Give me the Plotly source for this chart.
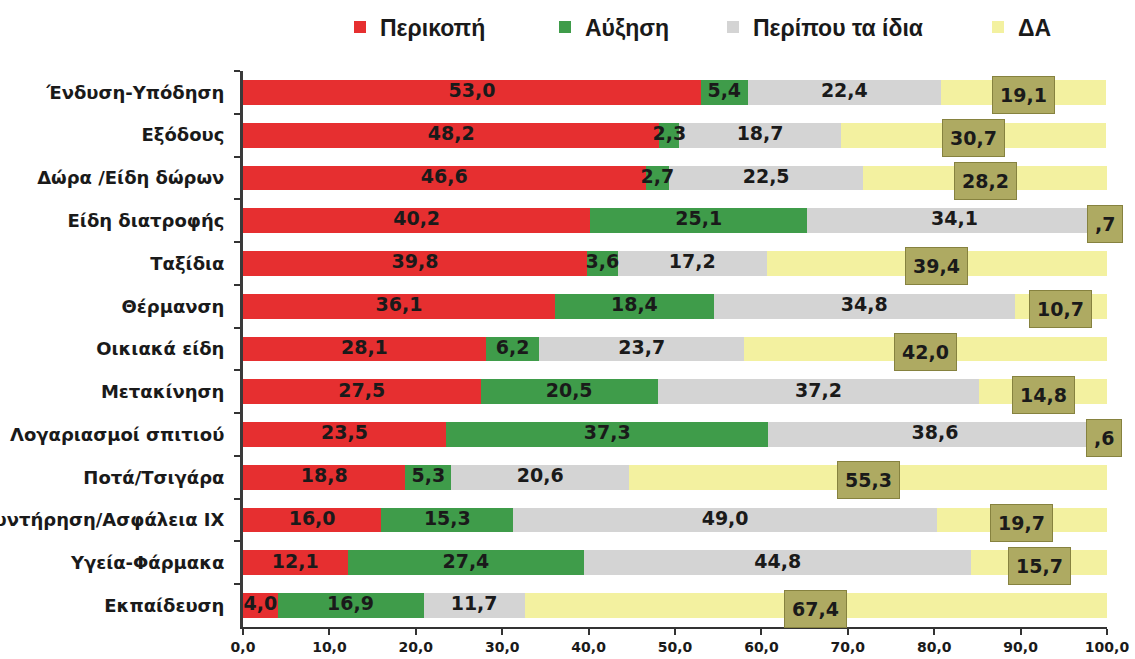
import plotly.graph_objects as go

categories = ["Ένδυση-Υπόδηση", "Εξόδους", "Δώρα /Είδη δώρων", "Είδη διατροφής", "Ταξίδια",
              "Θέρμανση", "Οικιακά είδη", "Μετακίνηση", "Λογαριασμοί σπιτιού", "Ποτά/Τσιγάρα",
              "Συντήρηση/Ασφάλεια ΙΧ", "Υγεία-Φάρμακα", "Εκπαίδευση"]
cut = [53.0, 48.2, 46.6, 40.2, 39.8, 36.1, 28.1, 27.5, 23.5, 18.8, 16.0, 12.1, 4.0]
increase = [5.4, 2.3, 2.7, 25.1, 3.6, 18.4, 6.2, 20.5, 37.3, 5.3, 15.3, 27.4, 16.9]
same = [22.4, 18.7, 22.5, 34.1, 17.2, 34.8, 23.7, 37.2, 38.6, 20.6, 49.0, 44.8, 11.7]
dk = [19.1, 30.7, 28.2, 0.7, 39.4, 10.7, 42.0, 14.8, 0.6, 55.3, 19.7, 15.7, 67.4]

series_names = ["Περικοπή", "Αύξηση", "Περίπου τα ίδια", "ΔΑ"]
series_values = [cut, increase, same, dk]
colors = ["#e62f30", "#3f9c4a", "#d4d4d4", "#f3f1a0"]
x_ticks = [0, 10, 20, 30, 40, 50, 60, 70, 80, 90, 100]


def fmt(v):
    s = f"{v:.1f}".replace(".", ",")
    if v < 1:
        s = s[1:]
    return s


fig = go.Figure()
legend_ids = ["legend", "legend2", "legend3", "legend4"]
for name, vals, col, lg in zip(series_names, series_values, colors, legend_ids):
    fig.add_trace(go.Bar(
        y=categories, x=vals, name=name, orientation="h",
        marker=dict(color=col, line=dict(width=0)),
        legend=lg,
    ))

# labels for first three series (on top of all bars)
base = [0.0] * len(categories)
label_font = dict(family="DejaVu Sans", size=19, color="#1a1a1a", weight="bold")
for idx, vals in enumerate(series_values):
    centers = [b + v / 2 for b, v in zip(base, vals)]
    if idx < 3:
        fig.add_trace(go.Scatter(
            y=categories, x=centers, mode="text", text=[fmt(v) for v in vals],
            textposition="middle center", textfont=label_font,
            showlegend=False, hoverinfo="skip",
        ))
    else:
        for c, cat, v in zip(centers, categories, vals):
            fig.add_annotation(
                x=c, y=cat, xref="x", yref="y", text=fmt(v), showarrow=False,
                font=label_font, bgcolor="#aeaa62", bordercolor="#86823f",
                borderwidth=1, borderpad=7, yshift=-3,
            )
    base = [b + v for b, v in zip(base, vals)]

legend_x = [340, 545, 713, 978]
legend_font = dict(family="Liberation Sans", size=23, color="#1a1a1a", weight="bold")
layout_legends = {}
for lg, lx in zip(legend_ids, legend_x):
    layout_legends[lg] = dict(
        x=lx / 1135, y=1 - 27 / 659, xref="container", yref="container",
        xanchor="left", yanchor="middle", orientation="h",
        font=legend_font, bgcolor="rgba(0,0,0,0)", itemwidth=30,
    )

fig.update_layout(
    barmode="stack",
    bargap=0.42,
    width=1135, height=659,
    margin=dict(l=243, r=28, t=71, b=32, autoexpand=False),
    plot_bgcolor="white", paper_bgcolor="white",
    separators=",.",
    **layout_legends,
)
fig.update_xaxes(
    range=[0, 100], tickvals=x_ticks, tickformat=".1f",
    showgrid=False, zeroline=False,
    showline=True, linecolor="#333333", linewidth=2,
    ticks="outside", ticklen=6, tickwidth=2, tickcolor="#333333",
    tickfont=dict(family="DejaVu Sans", size=14, color="#1a1a1a", weight="bold"),
)
fig.update_yaxes(
    categoryorder="array", categoryarray=categories,
    range=[len(categories) - 0.5, -0.5],
    showgrid=False, zeroline=False,
    showline=True, linecolor="#3a3a3a", linewidth=3,
    ticks="outside", ticklen=6, tickwidth=2, tickcolor="#333333",
    tickson="boundaries", ticklabelstandoff=12,
    tickfont=dict(family="DejaVu Sans", size=18, color="#1a1a1a", weight="bold"),
)

fig.write_html("out.html", config={"displayModeBar": False},
               post_script="document.body.style.margin='0px';")
